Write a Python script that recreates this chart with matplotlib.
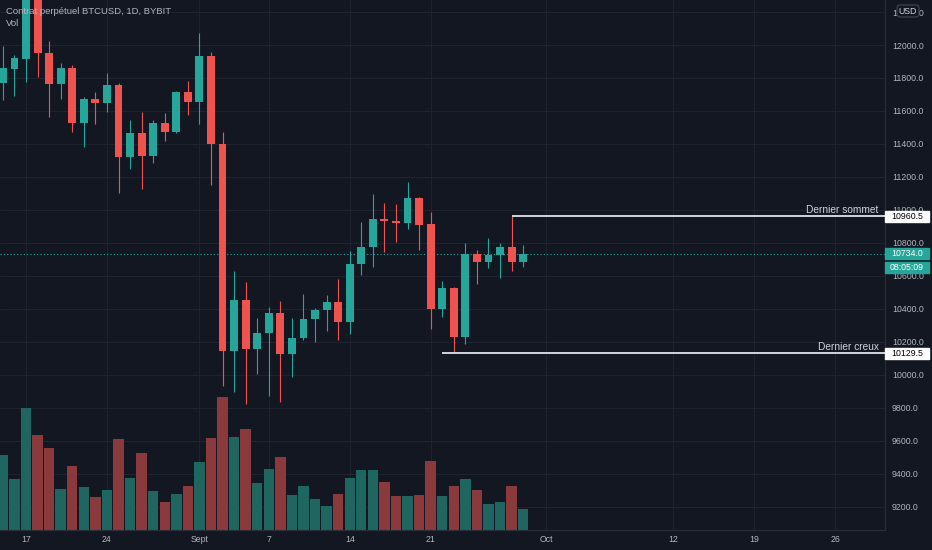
import numpy as np
import pandas as pd
import matplotlib
matplotlib.use("Agg")
import matplotlib.pyplot as plt
import matplotlib.transforms as mtransforms
from matplotlib.patches import Rectangle, FancyBboxPatch

plt.rcParams['font.family'] = ['Liberation Sans', 'DejaVu Sans']

# ===================== data (BTCUSD 1D, Bybit) =====================
dates = pd.date_range('2020-08-15', '2020-09-29', freq='D')
opens = [11768, 11857, 11915, 12290, 11951, 11763, 11862, 11527, 11671, 11650,
         11757, 11321, 11465, 11329, 11527, 11471, 11717, 11652, 11933, 11398,
         10146, 10454, 10155, 10252, 10373, 10126, 10223, 10340, 10393, 10441,
         10322, 10672, 10777, 10945, 10935, 10922, 11074, 10913, 10399, 10524,
         10231, 10733, 10682, 10725, 10773, 10686]
highs = [11994, 11939, 12470, 12400, 12024, 11889, 11879, 11683, 11713, 11832,
         11768, 11545, 11596, 11545, 11589, 11723, 11782, 12071, 11956, 11471,
         10631, 10563, 10344, 10413, 10446, 10344, 10490, 10407, 10482, 10579,
         10753, 10928, 11096, 11042, 11036, 11171, 11078, 10989, 10571, 10530,
         10797, 10757, 10830, 10797, 10960.5, 10787]
lows = [11666, 11691, 11776, 11804, 11562, 11671, 11470, 11380, 11519, 11595,
        11104, 11246, 11129, 11283, 11420, 11465, 11575, 11519, 11149, 9930,
        9894, 9823, 10003, 9873, 9833, 9985, 10211, 10201, 10267, 10211,
        10247, 10605, 10656, 10743, 10807, 10886, 10757, 10280, 10349, 10129.5,
        10187, 10549, 10650, 10589, 10631, 10654]
closes = [11859, 11919, 12290, 11950, 11763, 11862, 11527, 11673, 11650, 11757,
          11321, 11465, 11329, 11527, 11471, 11717, 11652, 11933, 11398, 10146,
          10454, 10155, 10252, 10373, 10126, 10223, 10340, 10393, 10441, 10322,
          10672, 10777, 10943, 10935, 10922, 11074, 10910, 10399, 10524, 10231,
          10733, 10682, 10725, 10773, 10686, 10734]
volumes = [7.5, 5.1, 12.2, 9.5, 8.2, 4.1, 6.4, 4.3, 3.3, 4.0,
           9.1, 5.2, 7.7, 3.9, 2.8, 3.6, 4.4, 6.8, 9.2, 13.3,
           9.3, 10.1, 4.7, 6.1, 7.3, 3.5, 4.4, 3.1, 2.4, 3.6,
           5.2, 6.0, 6.0, 4.8, 3.4, 3.4, 3.5, 6.9, 3.4, 4.4,
           5.1, 4.0, 2.6, 2.8, 4.4, 2.1]

tick_dates = ['2020-08-17', '2020-08-24', '2020-09-01', '2020-09-07', '2020-09-14',
              '2020-09-21', '2020-10-01', '2020-10-12', '2020-10-19', '2020-10-26']
tick_labels = ['17', '24', 'Sept', '7', '14', '21', 'Oct', '12', '19', '26']
price_ticks = np.arange(9200, 12201, 200)

last_high = 10960.5
last_high_date = '2020-09-28'
last_low = 10129.5
last_low_date = '2020-09-22'
last_price = 10734.0
countdown = '08:05:09'

# ===================== style =====================
BG = '#131722'
GRID = '#1f2330'
BORDER = '#2a2e39'
TXT = '#b2b5be'
UP = '#26a69a'
DOWN = '#ef5350'
VUP = '#1f6660'
VDOWN = '#8a3a3d'
LEVEL = '#d1d4dc'

W, H = 932, 550
PLOT_R, PLOT_B = 885, 530

x0 = dates[0]
x = np.asarray((dates - x0).days, dtype=float)
tick_x = [(pd.Timestamp(d) - x0).days for d in tick_dates]
o = np.array(opens, dtype=float)
c = np.array(closes, dtype=float)
up = c >= o

fig = plt.figure(figsize=(W / 100, H / 100), dpi=100, facecolor=BG)
rect = [0, (H - PLOT_B) / H, PLOT_R / W, PLOT_B / H]
ax_v = fig.add_axes(rect)
ax = fig.add_axes(rect, sharex=ax_v)

# ===================== price axes =====================
ax.set_facecolor('none')
ax.set_xlim(-0.25, 76.3)
ax.set_ylim(9059, 12273)

# ===================== volume (background) =====================
ax_v.set_facecolor(BG)
ax_v.set_ylim(0, 53)
ax_v.set_yticks([])
ax_v.tick_params(axis='x', length=0, labelbottom=False)
for s in ax_v.spines.values():
    s.set_visible(False)
ax_v.vlines(tick_x, 0, 1, transform=mtransforms.blended_transform_factory(ax_v.transData, ax_v.transAxes),
            color=GRID, lw=0.8, zorder=0)
ax_v.hlines(price_ticks, 0, 1, transform=mtransforms.blended_transform_factory(ax_v.transAxes, ax.transData),
            color=GRID, lw=0.8, zorder=0)
ax_v.bar(x, volumes, width=0.9, color=[VUP if u else VDOWN for u in up], zorder=2)

# ===================== candles =====================
cols = [UP if u else DOWN for u in up]
ax.vlines(x, lows, highs, color=cols, lw=0.8, zorder=3)
ax.bar(x, np.maximum(np.abs(c - o), 8), bottom=np.minimum(o, c), width=0.68, color=cols, zorder=4)

# current price line
ax.axhline(last_price, color=UP, ls=(0, (1, 2)), lw=0.8, zorder=2)

# last swing high / low
xr = ax.get_xlim()[1]
ax.hlines(last_high, (pd.Timestamp(last_high_date) - x0).days, xr, color=LEVEL, lw=1.4, zorder=5)
ax.hlines(last_low, (pd.Timestamp(last_low_date) - x0).days, xr, color=LEVEL, lw=1.4, zorder=5)
ax.annotate('Dernier sommet', xy=(1, last_high), xycoords=('axes fraction', 'data'),
            xytext=(-4.5, 4.5), textcoords='offset points', ha='right', va='center',
            fontsize=7.3, color=LEVEL)
ax.annotate('Dernier creux', xy=(1, last_low), xycoords=('axes fraction', 'data'),
            xytext=(-4.5, 4.5), textcoords='offset points', ha='right', va='center',
            fontsize=7.3, color=LEVEL)

# ===================== axes / ticks =====================
ax.yaxis.tick_right()
ax.set_yticks(price_ticks)
ax.set_yticklabels([f'{p:.1f}' for p in price_ticks])
ax.tick_params(axis='y', length=0, pad=5, labelsize=6.3, labelcolor=TXT)
ax.set_xticks(tick_x)
ax.set_xticklabels(tick_labels)
ax.tick_params(axis='x', length=0, pad=3.5, labelsize=6.3, labelcolor=TXT)
for side in ['top', 'left']:
    ax.spines[side].set_visible(False)
ax.spines['right'].set_color(BORDER)
ax.spines['bottom'].set_color(BORDER)

# header
fig.text(6 / W, 1 - 11 / H, 'Contrat perpétuel BTCUSD, 1D, BYBIT', ha='left', va='center',
         fontsize=6.8, color=TXT)
fig.text(6 / W, 1 - 23 / H, 'Vol', ha='left', va='center', fontsize=6.8, color=TXT)


# ===================== price tags on the right scale =====================
def price_tag(val, text, fc, tc, dy=0):
    y = ax.transData.transform((0, val))[1] - dy
    fig.add_artist(Rectangle((PLOT_R, y - 5.5), 44, 11, transform=mtransforms.IdentityTransform(),
                             fc=fc, ec=fc, zorder=5))
    fig.text(PLOT_R + 22, y, text, transform=mtransforms.IdentityTransform(), ha='center',
             va='center', fontsize=6.3, color=tc, zorder=6)


price_tag(last_high, f'{last_high:.1f}', 'white', 'black')
price_tag(last_price, f'{last_price:.1f}', UP, 'white')
price_tag(last_price, countdown, UP, 'white', dy=13.5)
price_tag(last_low, f'{last_low:.1f}', 'white', 'black')

# currency badge
fig.add_artist(FancyBboxPatch((897, H - 17), 22, 12, boxstyle='round,pad=0,rounding_size=3',
                              transform=mtransforms.IdentityTransform(), fc=BG, ec='#434651',
                              lw=0.8, zorder=5))
fig.text(908, H - 11, 'USD', transform=mtransforms.IdentityTransform(), ha='center', va='center',
         fontsize=6.3, color='#d1d4dc', zorder=6)

plt.savefig('out.png', dpi=100, facecolor=BG)
plt.close()
